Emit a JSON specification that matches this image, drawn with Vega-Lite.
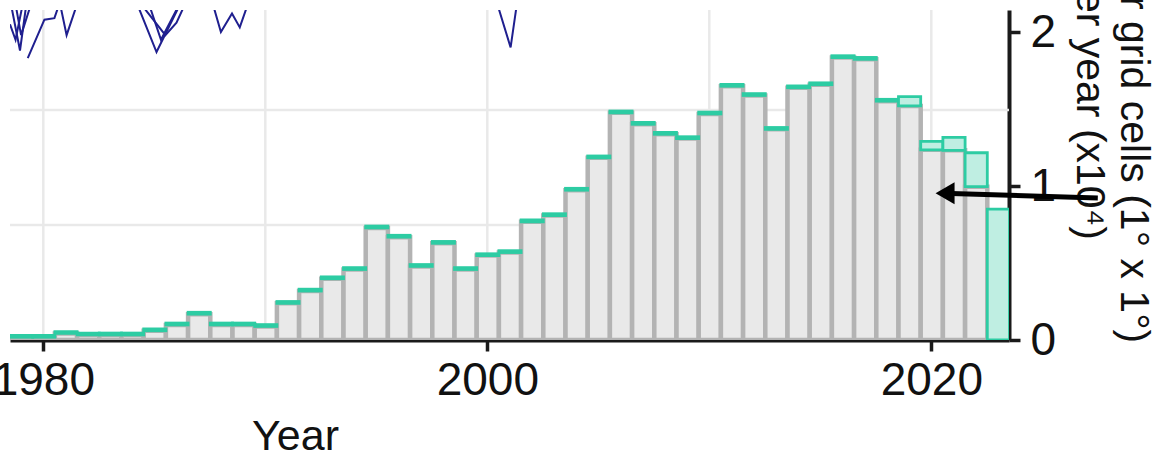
{
  "$schema": "https://vega.github.io/schema/vega-lite/v6.json",
  "autosize": {"type": "none"},
  "padding": {"left": 10, "top": 10, "right": 149, "bottom": 117},
  "width": 999,
  "height": 330,
  "background": "white",
  "config": {
    "view": {"stroke": null},
    "font": "Liberation Sans",
    "axis": {"labelFont": "Liberation Sans", "titleFont": "Liberation Sans"},
    "axisX": {
      "grid": false,
      "domainColor": "#1a1a1a", "domainWidth": 4,
      "tickColor": "#1a1a1a", "tickWidth": 3.5, "tickSize": 11,
      "labelFontSize": 46, "labelColor": "#111111", "labelPadding": 7,
      "labelFlush": false, "labelOverlap": false,
      "titleFontSize": 43, "titleFontWeight": "normal", "titleColor": "#111111",
      "titleX": 285, "titleY": 75, "titleAlign": "center", "titleBaseline": "top",
      "zindex": 1
    },
    "axisY": {
      "grid": false,
      "domainColor": "#1a1a1a", "domainWidth": 4,
      "tickColor": "#1a1a1a", "tickWidth": 3.5, "tickSize": 11,
      "labelFontSize": 46, "labelColor": "#111111", "labelPadding": 10,
      "labelFlush": false, "labelOverlap": false,
      "titleFontSize": 41, "titleFontWeight": "normal", "titleColor": "#111111",
      "titleAngle": 90, "titleAlign": "center", "titleBaseline": "top",
      "titleX": 143, "titleY": 93, "titleLineHeight": 44,
      "zindex": 1
    }
  },
  "datasets": {
    "bars": [
      {"year": 1979, "g": 0.018, "t": 0.03},
      {"year": 1980, "g": 0.018, "t": 0.03},
      {"year": 1981, "g": 0.043, "t": 0.055},
      {"year": 1982, "g": 0.033, "t": 0.045},
      {"year": 1983, "g": 0.033, "t": 0.045},
      {"year": 1984, "g": 0.033, "t": 0.045},
      {"year": 1985, "g": 0.06, "t": 0.072},
      {"year": 1986, "g": 0.098, "t": 0.11},
      {"year": 1987, "g": 0.168, "t": 0.18},
      {"year": 1988, "g": 0.098, "t": 0.11},
      {"year": 1989, "g": 0.098, "t": 0.11},
      {"year": 1990, "g": 0.088, "t": 0.1},
      {"year": 1991, "g": 0.238, "t": 0.25},
      {"year": 1992, "g": 0.318, "t": 0.33},
      {"year": 1993, "g": 0.398, "t": 0.41},
      {"year": 1994, "g": 0.458, "t": 0.47},
      {"year": 1995, "g": 0.728, "t": 0.74},
      {"year": 1996, "g": 0.668, "t": 0.68},
      {"year": 1997, "g": 0.478, "t": 0.49},
      {"year": 1998, "g": 0.628, "t": 0.64},
      {"year": 1999, "g": 0.458, "t": 0.47},
      {"year": 2000, "g": 0.548, "t": 0.56},
      {"year": 2001, "g": 0.568, "t": 0.58},
      {"year": 2002, "g": 0.768, "t": 0.78},
      {"year": 2003, "g": 0.808, "t": 0.82},
      {"year": 2004, "g": 0.973, "t": 0.985},
      {"year": 2005, "g": 1.183, "t": 1.195},
      {"year": 2006, "g": 1.475, "t": 1.487},
      {"year": 2007, "g": 1.401, "t": 1.413},
      {"year": 2008, "g": 1.336, "t": 1.348},
      {"year": 2009, "g": 1.308, "t": 1.32},
      {"year": 2010, "g": 1.468, "t": 1.48},
      {"year": 2011, "g": 1.648, "t": 1.66},
      {"year": 2012, "g": 1.588, "t": 1.6},
      {"year": 2013, "g": 1.368, "t": 1.38},
      {"year": 2014, "g": 1.638, "t": 1.65},
      {"year": 2015, "g": 1.658, "t": 1.67},
      {"year": 2016, "g": 1.834, "t": 1.846},
      {"year": 2017, "g": 1.823, "t": 1.835},
      {"year": 2018, "g": 1.551, "t": 1.563},
      {"year": 2019, "g": 1.52, "t": 1.58},
      {"year": 2020, "g": 1.235, "t": 1.29},
      {"year": 2021, "g": 1.232, "t": 1.316},
      {"year": 2022, "g": 0.996, "t": 1.216},
      {"year": 2023, "g": 0, "t": 0.85}
    ],
    "lines": [
      {"s": "a", "year": 1978.45, "value": 2.25},
      {"s": "a", "year": 1978.95, "value": 1.88},
      {"s": "a", "year": 1979.35, "value": 2.3},
      {"s": "b", "year": 1978.5, "value": 2.05},
      {"s": "b", "year": 1978.75, "value": 1.95},
      {"s": "b", "year": 1979.1, "value": 2.2},
      {"s": "c", "year": 1978.6, "value": 2.3},
      {"s": "c", "year": 1979.0, "value": 1.98},
      {"s": "c", "year": 1979.6, "value": 2.25},
      {"s": "d", "year": 1979.3, "value": 1.83},
      {"s": "d", "year": 1980.05, "value": 2.08},
      {"s": "d", "year": 1980.5, "value": 2.09},
      {"s": "d", "year": 1981.0, "value": 2.3},
      {"s": "e", "year": 1980.7, "value": 2.22},
      {"s": "e", "year": 1981.05, "value": 1.98},
      {"s": "e", "year": 1981.8, "value": 2.3},
      {"s": "f", "year": 1983.9, "value": 2.3},
      {"s": "f", "year": 1985.1, "value": 1.87},
      {"s": "f", "year": 1986.4, "value": 2.25},
      {"s": "g", "year": 1984.3, "value": 2.2},
      {"s": "g", "year": 1985.5, "value": 1.98},
      {"s": "g", "year": 1986.0, "value": 2.06},
      {"s": "g", "year": 1986.6, "value": 2.25},
      {"s": "j", "year": 1984.6, "value": 2.25},
      {"s": "j", "year": 1985.3, "value": 1.95},
      {"s": "j", "year": 1986.2, "value": 2.2},
      {"s": "h", "year": 1987.5, "value": 2.25},
      {"s": "h", "year": 1988.0, "value": 2.0},
      {"s": "h", "year": 1988.5, "value": 2.12},
      {"s": "h", "year": 1988.85, "value": 2.03},
      {"s": "h", "year": 1989.5, "value": 2.3},
      {"s": "i", "year": 2000.2, "value": 2.3},
      {"s": "i", "year": 2001.05, "value": 1.9},
      {"s": "i", "year": 2001.45, "value": 2.3}
    ],
    "gridx": [{"year": 1980}, {"year": 1990}, {"year": 2000}, {"year": 2010}, {"year": 2020}],
    "gridy": [{"value": 0.747}, {"value": 1.494}],
    "arrow": [{"year": 2020.9, "value": 0.952, "year_end": 2027.5, "value_end": 0.922}],
    "head": [{"year": 2020.62, "value": 0.953}]
  },
  "layer": [
    {
      "data": {"name": "gridx"},
      "mark": {"type": "rule", "color": "#e9e9e9", "strokeWidth": 2.5},
      "encoding": {
        "x": {"field": "year", "type": "quantitative", "scale": {"domain": [1978.5, 2023.5], "nice": false, "zero": false},
              "axis": {"values": [1980, 2000, 2020], "format": "d", "title": "Year"}}
      }
    },
    {
      "data": {"name": "gridy"},
      "mark": {"type": "rule", "color": "#e9e9e9", "strokeWidth": 2.5},
      "encoding": {
        "y": {"field": "value", "type": "quantitative", "scale": {"domain": [0, 2.143], "nice": false},
              "axis": {"orient": "right", "values": [0, 1, 2], "format": "d", "title": ["Number grid cells (1° x 1°)", "per year (x10⁴)"]}}
      }
    },
    {
      "data": {"name": "bars"},
      "mark": {"type": "bar", "fill": "#e9e9e9", "stroke": "#b3b3b3", "strokeWidth": 4.5, "binSpacing": 0, "clip": true},
      "encoding": {
        "x": {
          "field": "year", "type": "quantitative",
          "bin": {"step": 1, "extent": [1978.5, 2023.5], "nice": false},
          "scale": {"domain": [1978.5, 2023.5], "nice": false, "zero": false},
          "axis": {"values": [1980, 2000, 2020], "format": "d", "title": "Year"}
        },
        "y": {
          "field": "g", "type": "quantitative",
          "scale": {"domain": [0, 2.143], "nice": false},
          "axis": {"orient": "right", "values": [0, 1, 2], "format": "d", "title": ["Number grid cells (1° x 1°)", "per year (x10⁴)"]}
        }
      }
    },
    {
      "data": {"name": "bars"},
      "mark": {"type": "bar", "fill": "#bfeee2", "stroke": "#2dcca3", "strokeWidth": 2.8, "binSpacing": 0, "clip": true},
      "encoding": {
        "x": {
          "field": "year", "type": "quantitative",
          "bin": {"step": 1, "extent": [1978.5, 2023.5], "nice": false},
          "scale": {"domain": [1978.5, 2023.5], "nice": false, "zero": false},
          "axis": {"values": [1980, 2000, 2020], "format": "d", "title": "Year"}
        },
        "y": {"field": "t", "type": "quantitative", "scale": {"domain": [0, 2.143], "nice": false},
              "axis": {"orient": "right", "values": [0, 1, 2], "format": "d", "title": ["Number grid cells (1° x 1°)", "per year (x10⁴)"]}},
        "y2": {"field": "g"}
      }
    },
    {
      "data": {"name": "lines"},
      "mark": {"type": "line", "color": "#1f1f8f", "strokeWidth": 2, "clip": true},
      "encoding": {
        "x": {"field": "year", "type": "quantitative", "scale": {"domain": [1978.5, 2023.5], "nice": false, "zero": false},
              "axis": {"values": [1980, 2000, 2020], "format": "d", "title": "Year"}},
        "y": {"field": "value", "type": "quantitative", "scale": {"domain": [0, 2.143], "nice": false},
              "axis": {"orient": "right", "values": [0, 1, 2], "format": "d", "title": ["Number grid cells (1° x 1°)", "per year (x10⁴)"]}},
        "detail": {"field": "s"}
      }
    },
    {
      "data": {"name": "arrow"},
      "mark": {"type": "rule", "color": "#000000", "strokeWidth": 5},
      "encoding": {
        "x": {"field": "year", "type": "quantitative", "scale": {"domain": [1978.5, 2023.5], "nice": false, "zero": false},
              "axis": {"values": [1980, 2000, 2020], "format": "d", "title": "Year"}},
        "y": {"field": "value", "type": "quantitative", "scale": {"domain": [0, 2.143], "nice": false},
              "axis": {"orient": "right", "values": [0, 1, 2], "format": "d", "title": ["Number grid cells (1° x 1°)", "per year (x10⁴)"]}},
        "x2": {"field": "year_end"},
        "y2": {"field": "value_end"}
      }
    },
    {
      "data": {"name": "head"},
      "mark": {"type": "point", "shape": "triangle-left", "filled": true, "color": "#000000", "size": 480, "opacity": 1},
      "encoding": {
        "x": {"field": "year", "type": "quantitative", "scale": {"domain": [1978.5, 2023.5], "nice": false, "zero": false},
              "axis": {"values": [1980, 2000, 2020], "format": "d", "title": "Year"}},
        "y": {"field": "value", "type": "quantitative", "scale": {"domain": [0, 2.143], "nice": false},
              "axis": {"orient": "right", "values": [0, 1, 2], "format": "d", "title": ["Number grid cells (1° x 1°)", "per year (x10⁴)"]}}
      }
    }
  ]
}
